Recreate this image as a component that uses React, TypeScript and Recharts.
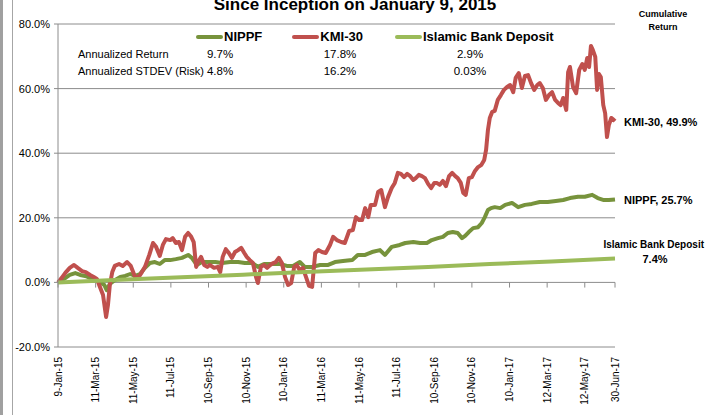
import React from 'react';
import { LineChart, Line, XAxis, YAxis, CartesianGrid, ReferenceLine, Legend } from 'recharts';

// x = calendar days since inception (9-Jan-15)
const xTickDays = [0, 61, 122, 183, 244, 305, 366, 427, 488, 549, 610, 671, 732, 793, 854, 903];
const xTickLabels = ['9-Jan-15', '11-Mar-15', '11-May-15', '11-Jul-15', '10-Sep-15', '10-Nov-15', '10-Jan-16', '11-Mar-16', '11-May-16', '11-Jul-16', '10-Sep-16', '10-Nov-16', '10-Jan-17', '12-Mar-17', '12-May-17', '30-Jun-17'];
const yTicks = [-20, 0, 20, 40, 60, 80];

const seriesNames = ['NIPPF', 'KMI-30', 'Islamic Bank Deposit'];
const annualizedReturn = ['9.7%', '17.8%', '2.9%'];
const annualizedRisk = ['4.8%', '16.2%', '0.03%'];
const cumulativeReturn = ['25.7%', '49.9%', '7.4%'];

// [day, cumulative return %]
const nippfSeries: [number, number][] = [
  [0, 0.0], [10, 1.1], [19, 2.3], [28, 2.9], [36, 2.3], [44, 2.0], [52, 1.4], [60, 1.1], [68, 0.1], [75, -0.8],
  [79, -2.4], [84, -0.5], [92, 0.7], [101, 1.7], [109, 2.0], [117, 2.6], [125, 2.0], [133, 2.6], [141, 4.5], [149, 6.0],
  [157, 6.3], [165, 5.7], [173, 6.9], [182, 6.9], [191, 7.2], [201, 7.6], [211, 8.5], [217, 7.6], [225, 5.4], [233, 6.3],
  [243, 6.3], [255, 6.3], [266, 6.0], [279, 6.3], [292, 6.3], [303, 6.0], [315, 6.0], [324, 4.8], [334, 5.7], [347, 5.7],
  [360, 5.7], [371, 5.1], [381, 5.1], [392, 6.3], [400, 4.8], [412, 4.8], [425, 5.4], [438, 5.4], [449, 6.3], [462, 6.6],
  [477, 6.9], [486, 8.5], [498, 8.5], [509, 9.4], [522, 10.0], [530, 8.5], [541, 11.0], [554, 11.6], [563, 12.2], [576, 12.5],
  [587, 12.2], [598, 12.2], [606, 13.1], [616, 13.7], [624, 14.1], [632, 15.3], [640, 15.6], [648, 15.3], [655, 13.7], [660, 14.4],
  [666, 15.6], [673, 16.8], [681, 17.1], [687, 18.4], [692, 20.2], [697, 22.4], [702, 23.0], [708, 23.3], [717, 23.0], [725, 24.0],
  [736, 24.6], [746, 23.3], [757, 24.0], [768, 24.3], [781, 24.9], [794, 24.9], [807, 25.2], [819, 25.5], [830, 26.1], [843, 26.5],
  [854, 26.5], [866, 27.1], [875, 26.1], [885, 25.5], [893, 25.5], [903, 25.7],
];

const kmi30Series: [number, number][] = [
  [0, 0.0], [6, 1.4], [13, 3.2], [19, 4.5], [26, 5.4], [32, 4.5], [39, 3.5], [45, 3.2], [52, 2.3], [58, 1.7],
  [63, 1.1], [68, -1.4], [73, -3.9], [78, -10.7], [81, -7.0], [84, -0.8], [88, 3.2], [92, 5.1], [99, 5.7], [105, 5.1],
  [112, 6.3], [118, 5.1], [125, 1.7], [131, 1.7], [136, 3.2], [141, 4.8], [148, 8.5], [154, 12.2], [159, 11.0], [165, 8.2],
  [170, 11.6], [175, 13.4], [182, 13.1], [186, 13.7], [191, 12.2], [196, 12.5], [201, 10.0], [206, 14.1], [211, 15.3], [216, 14.1],
  [220, 12.5], [224, 4.8], [227, 6.3], [232, 7.9], [237, 5.4], [242, 4.8], [246, 5.4], [253, 4.5], [259, 4.8], [263, 3.2],
  [267, 7.9], [272, 10.3], [277, 9.1], [282, 7.6], [287, 9.4], [292, 10.0], [297, 10.7], [302, 9.1], [306, 7.9], [311, 6.9],
  [316, 6.0], [321, 1.7], [324, -0.2], [329, 4.8], [334, 5.4], [339, 4.5], [344, 5.4], [349, 6.0], [353, 6.3], [358, 7.6],
  [363, 6.0], [368, 1.7], [373, -0.8], [378, -0.2], [383, 4.8], [387, 5.4], [392, 3.8], [397, 4.5], [402, 1.7], [407, -1.1],
  [412, -1.4], [417, 9.1], [422, 10.0], [428, 9.4], [434, 9.1], [441, 11.6], [446, 14.1], [452, 13.1], [459, 12.5], [465, 12.2],
  [472, 15.9], [478, 16.2], [483, 20.2], [488, 19.3], [493, 19.3], [498, 23.0], [503, 20.2], [507, 24.0], [514, 24.0], [519, 28.0],
  [524, 28.6], [530, 23.3], [535, 26.4], [541, 29.2], [546, 30.8], [551, 33.9], [556, 33.6], [561, 32.6], [566, 33.6], [571, 32.9],
  [576, 31.7], [580, 32.3], [585, 33.3], [590, 32.9], [595, 32.3], [600, 30.5], [605, 29.2], [610, 30.8], [614, 30.8], [619, 30.2],
  [624, 31.4], [629, 29.8], [634, 32.9], [639, 33.9], [644, 32.9], [648, 32.3], [653, 30.8], [657, 27.7], [661, 27.1], [666, 32.3],
  [671, 32.6], [676, 34.5], [681, 35.7], [686, 36.3], [691, 37.9], [694, 41.0], [697, 47.2], [700, 50.9], [704, 52.8], [708, 53.1],
  [713, 56.5], [718, 58.0], [723, 59.6], [728, 60.5], [733, 61.1], [738, 58.9], [742, 63.3], [747, 64.8], [752, 60.2], [757, 63.9],
  [762, 64.2], [767, 61.7], [772, 59.6], [777, 61.1], [781, 61.7], [786, 60.2], [791, 56.5], [796, 58.0], [801, 58.9], [806, 56.5],
  [811, 55.5], [815, 54.9], [819, 57.1], [824, 53.4], [827, 65.1], [830, 66.7], [835, 60.5], [840, 58.6], [845, 65.8], [850, 67.6],
  [854, 65.8], [858, 69.5], [861, 66.7], [864, 73.2], [867, 72.0], [871, 69.8], [874, 59.6], [877, 64.5], [880, 63.6], [884, 54.9],
  [887, 52.4], [890, 45.0], [893, 48.7], [897, 50.9], [900, 50.5], [903, 49.9],
];

const depositSeries: [number, number][] = [
  [0, 0.0], [100, 0.8], [200, 1.6], [300, 2.4], [400, 3.2], [500, 4.0], [600, 4.8], [700, 5.7], [800, 6.5], [903, 7.4],
];

const toRows = (s: [number, number][]) => s.map(([day, v]) => ({ day, v }));
const nippfData = toRows(nippfSeries);
const kmiData = toRows(kmi30Series);
const depositData = toRows(depositSeries);

const COLORS = { nippf: '#77933C', kmi: '#C0504D', deposit: '#9BBB59' };
const GRID = '#8C8C8C';
const FONT = "'Liberation Sans', Arial, sans-serif";

const XTick = (props: any) => {
  const { x, y, payload } = props;
  const i = xTickDays.indexOf(payload.value);
  return (
    <text transform={`translate(${x},${y}) rotate(-90)`} x={0} y={0} dy="0.35em" textAnchor="end" fontSize={10} fill="#000" fontFamily={FONT}>
      {xTickLabels[i]}
    </text>
  );
};

const LegendContent = (props: any) => {
  const payload = [...(props.payload || [])].sort(
    (a: any, b: any) => seriesNames.indexOf(a.value) - seriesNames.indexOf(b.value)
  );
  return (
    <div style={{ display: 'flex', alignItems: 'center', fontFamily: FONT, fontWeight: 'bold', fontSize: 13, color: '#000' }}>
      {payload.map((p: any, i: number) => (
        <div key={i} style={{ display: 'flex', alignItems: 'center', marginRight: i === 0 ? 30 : 32 }}>
          <div style={{ width: 27, height: 4, borderRadius: 2, background: p.color, marginRight: 1 }} />
          <span>{p.value}</span>
        </div>
      ))}
    </div>
  );
};

export default function App() {
  const colX = [220, 340, 470];
  return (
    <div style={{ position: 'absolute', left: 0, top: 0, width: 706, height: 415, overflow: 'hidden', background: '#fff', fontFamily: FONT }}>
      <div style={{ position: 'absolute', left: 0, top: 0, width: 3, height: 415, background: '#A0A0A0' }} />
      <div style={{ position: 'absolute', left: 12, top: 0, width: 1, height: 415, background: '#A6A6A6' }} />
      <LineChart width={706} height={415} margin={{ top: 24, right: 91, bottom: 0, left: 0 }}>
        <CartesianGrid vertical={false} stroke={GRID} strokeWidth={1} />
        <XAxis
          type="number"
          dataKey="day"
          domain={[0, 903]}
          ticks={xTickDays}
          interval={0}
          height={68}
          axisLine={false}
          tickLine={false}
          tickSize={6}
          tickMargin={4}
          tick={<XTick />}
        />
        <YAxis
          domain={[-20, 80]}
          ticks={yTicks}
          width={58}
          tickFormatter={(v: number) => `${v.toFixed(1)}%`}
          tick={{ fontSize: 11, fill: '#000', fontFamily: FONT }}
          tickSize={4}
          tickMargin={4}
          axisLine={{ stroke: GRID }}
          tickLine={{ stroke: GRID }}
          allowDataOverflow
        />
        {xTickDays.map((d) => (
          <ReferenceLine key={d} segment={[{ x: d, y: 0 }, { x: d, y: -1.6 }]} stroke={GRID} ifOverflow="visible" />
        ))}
        <Legend
          verticalAlign="middle"
          align="center"
          layout="horizontal"
          content={<LegendContent />}
          wrapperStyle={{ top: 29, left: 196, width: 420, height: 16 }}
        />
        <Line data={nippfData} dataKey="v" name={seriesNames[0]} stroke={COLORS.nippf} strokeWidth={4} dot={false} isAnimationActive={false} strokeLinejoin="round" />
        <Line data={kmiData} dataKey="v" name={seriesNames[1]} stroke={COLORS.kmi} strokeWidth={4} dot={false} isAnimationActive={false} strokeLinejoin="round" />
        <Line data={depositData} dataKey="v" name={seriesNames[2]} stroke={COLORS.deposit} strokeWidth={4} dot={false} isAnimationActive={false} strokeLinejoin="round" />
      </LineChart>
      <svg width={706} height={415} style={{ position: 'absolute', left: 0, top: 0, pointerEvents: 'none' }} fontFamily={FONT}>
        <text x={355} y={10} textAnchor="middle" fontSize={17} fontWeight="bold" fill="#000">Since Inception on January 9, 2015</text>
        <text x={663} y={17} textAnchor="middle" fontSize={9} fontWeight="bold" fill="#000">Cumulative</text>
        <text x={663} y={30} textAnchor="middle" fontSize={9} fontWeight="bold" fill="#000">Return</text>
        <text x={78} y={58} fontSize={11} fill="#000">Annualized Return</text>
        <text x={78} y={75} fontSize={11} fill="#000">Annualized STDEV (Risk)</text>
        {annualizedReturn.map((t, i) => (
          <text key={'r' + i} x={colX[i]} y={58} textAnchor="middle" fontSize={11.5} fill="#000">{t}</text>
        ))}
        {annualizedRisk.map((t, i) => (
          <text key={'s' + i} x={colX[i]} y={75} textAnchor="middle" fontSize={11.5} fill="#000">{t}</text>
        ))}
        <text x={624} y={126} fontSize={11} fontWeight="bold" fill="#000">{`${seriesNames[1]}, ${cumulativeReturn[1]}`}</text>
        <text x={624} y={204} fontSize={11} fontWeight="bold" fill="#000">{`${seriesNames[0]}, ${cumulativeReturn[0]}`}</text>
        <text x={704} y={248} textAnchor="end" fontSize={10} fontWeight="bold" fill="#000">{seriesNames[2]}</text>
        <text x={655} y={263} textAnchor="middle" fontSize={11} fontWeight="bold" fill="#000">{cumulativeReturn[2]}</text>
      </svg>
    </div>
  );
}
